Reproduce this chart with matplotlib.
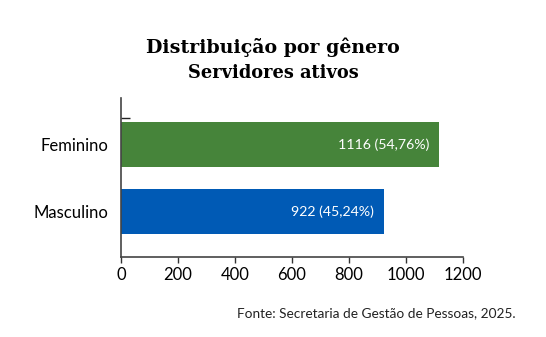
import numpy as np
import matplotlib
matplotlib.use("Agg")
import matplotlib.pyplot as plt

# dados
categorias = ["Masculino", "Feminino"]
valores = [922, 1116]
percentuais = ["45,24%", "54,76%"]
cores = ["#005AB5", "#46843A"]
xticks = [0, 200, 400, 600, 800, 1000, 1200]

plt.rcParams['font.family'] = ['Lato', 'DejaVu Sans']

fig = plt.figure(figsize=(5.46, 3.37), dpi=100)
ax = fig.add_axes([0.2216, 0.2374, 0.6264, 0.4718])

y = np.arange(len(categorias))
barras = ax.barh(y, valores, height=0.667, color=cores)

for b, v, p in zip(barras, valores, percentuais):
    ax.annotate(f"{v} ({p})", (b.get_width(), b.get_y() + b.get_height() / 2),
                xytext=(-7, 0), textcoords='offset points',
                ha='right', va='center', color='white', fontsize=10.2)

ax.set_xlim(0, 1200)
ax.set_ylim(-0.667, 1.689)
ax.set_xticks(xticks)
ax.set_xticklabels([str(t) for t in xticks], fontsize=12)
ax.set_yticks(y)
ax.set_yticklabels(categorias, fontsize=12)
ax.tick_params(axis='y', length=0, pad=9)
ax.tick_params(axis='x', length=4, width=1, color='#333333', pad=3)
ax.set_yticks([1.39], minor=True)
ax.tick_params(axis='y', which='minor', direction='in', length=6.5, width=1, color='#222222')

for s in ['top', 'right']:
    ax.spines[s].set_visible(False)
for s in ['left', 'bottom']:
    ax.spines[s].set_color('#444444')
    ax.spines[s].set_linewidth(1.2)

fig.text(0.5, 0.86, "Distribuição por gênero", ha='center', va='center',
         fontsize=13.7, fontweight='bold', family=['DejaVu Serif'])
fig.text(0.5, 0.783, "Servidores ativos", ha='center', va='center',
         fontsize=12.8, fontweight='bold', family=['DejaVu Serif'])
fig.text(0.945, 0.07, "Fonte: Secretaria de Gestão de Pessoas, 2025.",
         ha='right', va='center', fontsize=9.8, color='#222222')

fig.savefig("out.png", dpi=100)
